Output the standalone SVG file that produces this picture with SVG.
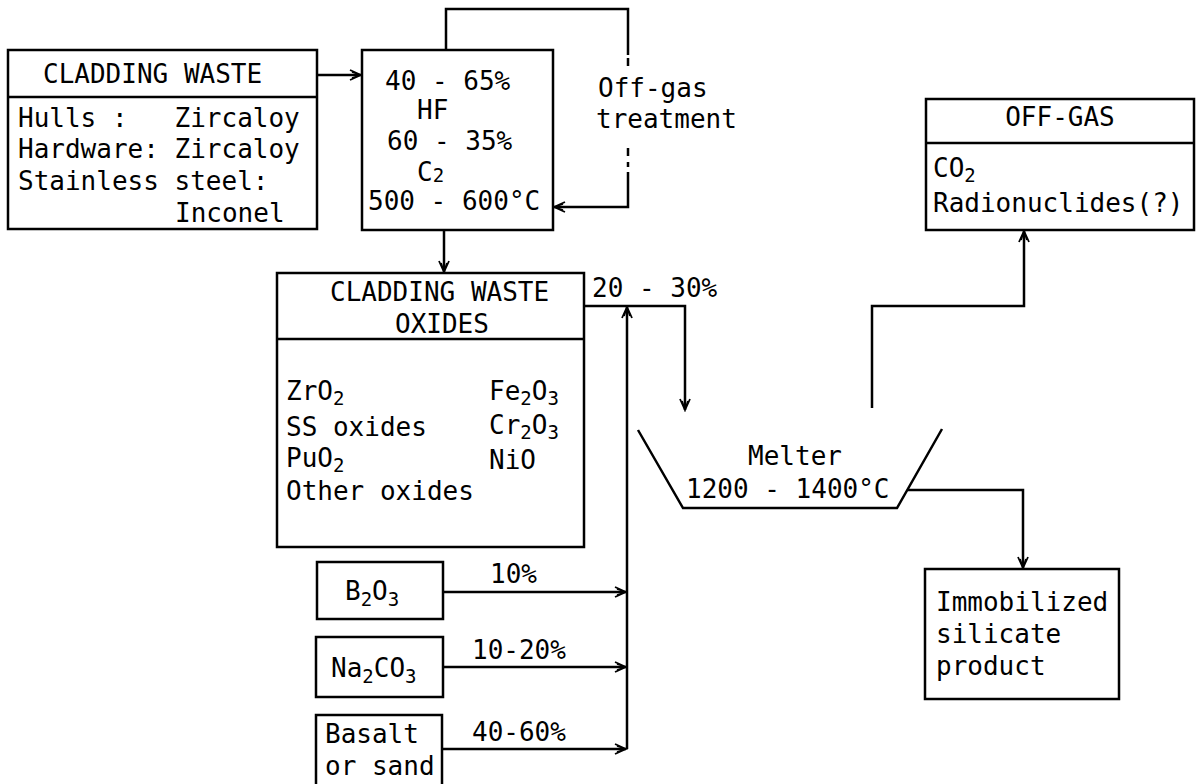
<svg xmlns="http://www.w3.org/2000/svg" width="1198" height="784" viewBox="0 0 1198 784">
<style>
text{font-family:"DejaVu Sans Mono","Liberation Mono",monospace;font-size:26px;fill:#000}
.sub{font-size:19px}
.box{fill:none;stroke:#000;stroke-width:2.5}
.ln{fill:none;stroke:#000;stroke-width:2.5}
.ar{fill:none;stroke:#000;stroke-width:2.5;marker-end:url(#arr)}
</style>
<defs>
<marker id="arr" markerWidth="14" markerHeight="12" refX="12" refY="6" orient="auto" markerUnits="userSpaceOnUse">
<path d="M1,1 L12,6 L1,11 M3,3 L12,6 L3,9" fill="none" stroke="#000" stroke-width="1.8"/>
</marker>
</defs>
<rect width="1198" height="784" fill="#fff"/>

<g id="connectors">
<path class="ar" d="M317,75 H361"/>
<path class="ln" d="M446,50 V9 H628 V55"/>
<path class="ln" d="M628,58 V66 M628,148 V156 M628,162 V167"/>
<path class="ar" d="M628,172 V207 H554"/>
<path class="ar" d="M444,230 V272"/>
<path class="ar" d="M584,306 H685 V410"/>
<path class="ar" d="M627,749 V307"/>
<path class="ar" d="M443,592 H626"/>
<path class="ar" d="M443,667 H626"/>
<path class="ar" d="M442,749 H626"/>
<path class="ar" d="M872,408 V306 H1024 V231"/>
<path class="ar" d="M908,490 H1023 V568"/>
</g>

<g id="cladding-waste">
<rect class="box" x="8" y="50" width="309" height="179"/>
<line class="ln" x1="8" y1="97" x2="317" y2="97"/>
<text x="43" y="83">CLADDING WASTE</text>
<text x="18" y="127" xml:space="preserve">Hulls :   Zircaloy</text>
<text x="18" y="158">Hardware: Zircaloy</text>
<text x="18" y="190">Stainless steel:</text>
<text x="175" y="222">Inconel</text>
</g>

<g id="reactor">
<rect class="box" x="362" y="50" width="191" height="180"/>
<text x="385" y="90">40 - 65%</text>
<text x="417" y="119">HF</text>
<text x="387" y="150">60 - 35%</text>
<text x="417" y="181">C<tspan class="sub" dy="1">2</tspan></text>
<text x="368" y="210">500 - 600°C</text>
</g>

<g id="off-gas-treatment">
<text x="598" y="97">Off-gas</text>
<text x="596" y="128">treatment</text>
</g>

<g id="cladding-oxides">
<rect class="box" x="277" y="273" width="307" height="274"/>
<line class="ln" x1="277" y1="339" x2="584" y2="339"/>
<text x="330" y="301">CLADDING WASTE</text>
<text x="395" y="333">OXIDES</text>
<text x="286" y="400">ZrO<tspan class="sub" dy="5">2</tspan></text>
<text x="286" y="436">SS oxides</text>
<text x="286" y="467">PuO<tspan class="sub" dy="5">2</tspan></text>
<text x="286" y="500">Other oxides</text>
<text x="489" y="400">Fe<tspan class="sub" dy="5">2</tspan><tspan dy="-5">O</tspan><tspan class="sub" dy="5">3</tspan></text>
<text x="489" y="434">Cr<tspan class="sub" dy="5">2</tspan><tspan dy="-5">O</tspan><tspan class="sub" dy="5">3</tspan></text>
<text x="489" y="469">NiO</text>
</g>

<g id="label-20-30">
<text x="592" y="297">20 - 30%</text>
</g>

<g id="b2o3">
<rect class="box" x="317" y="562" width="126" height="57"/>
<text x="345" y="600">B<tspan class="sub" dy="6">2</tspan><tspan dy="-6">O</tspan><tspan class="sub" dy="6">3</tspan></text>
<text x="490" y="583">10%</text>
</g>

<g id="na2co3">
<rect class="box" x="316" y="637" width="127" height="60"/>
<text x="331" y="677">Na<tspan class="sub" dy="6">2</tspan><tspan dy="-6">CO</tspan><tspan class="sub" dy="6">3</tspan></text>
<text x="472" y="659">10-20%</text>
</g>

<g id="basalt">
<rect class="box" x="316" y="715" width="126" height="80"/>
<text x="325" y="743">Basalt</text>
<text x="325" y="775">or sand</text>
<text x="472" y="741">40-60%</text>
</g>

<g id="melter">
<path class="ln" d="M638,430 L683,508 H897 L942,429"/>
<text x="795" y="465" text-anchor="middle">Melter</text>
<text x="686" y="498">1200 - 1400°C</text>
</g>

<g id="off-gas">
<rect class="box" x="926" y="99" width="268" height="131"/>
<line class="ln" x1="926" y1="143" x2="1194" y2="143"/>
<text x="1060" y="126" text-anchor="middle">OFF-GAS</text>
<text x="933" y="177">CO<tspan class="sub" dy="5">2</tspan></text>
<text x="933" y="212">Radionuclides(?)</text>
</g>

<g id="product">
<rect class="box" x="925" y="569" width="194" height="130"/>
<text x="936" y="611">Immobilized</text>
<text x="936" y="643">silicate</text>
<text x="936" y="675">product</text>
</g>
</svg>
